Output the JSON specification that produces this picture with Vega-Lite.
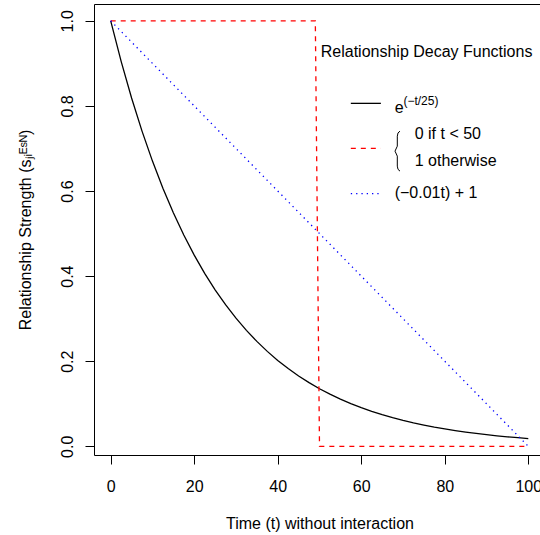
{
  "$schema": "https://vega.github.io/schema/vega-lite/v6.json",
  "width": 451,
  "height": 451,
  "autosize": {"type": "none"},
  "padding": {"left": 94, "top": 4, "right": 0, "bottom": 80},
  "background": "white",
  "config": {
    "view": {"stroke": "black", "strokeWidth": 1},
    "font": "Liberation Sans",
    "axis": {
      "grid": false,
      "domain": false,
      "ticks": true,
      "tickSize": 9,
      "tickColor": "black",
      "tickWidth": 1,
      "labelFont": "Liberation Sans",
      "labelFontSize": 16,
      "labelColor": "black",
      "titleFont": "Liberation Sans",
      "titleFontSize": 16,
      "titleFontWeight": "normal",
      "titleColor": "black",
      "labelOverlap": false,
      "labelFlush": false
    }
  },
  "datasets": {
    "curves": [
      {"fn": "exp", "t": 0, "s": 1.0},
      {"fn": "exp", "t": 2.5, "s": 0.9048},
      {"fn": "exp", "t": 5, "s": 0.8187},
      {"fn": "exp", "t": 7.5, "s": 0.7408},
      {"fn": "exp", "t": 10, "s": 0.6703},
      {"fn": "exp", "t": 12.5, "s": 0.6065},
      {"fn": "exp", "t": 15, "s": 0.5488},
      {"fn": "exp", "t": 17.5, "s": 0.4966},
      {"fn": "exp", "t": 20, "s": 0.4493},
      {"fn": "exp", "t": 22.5, "s": 0.4066},
      {"fn": "exp", "t": 25, "s": 0.3679},
      {"fn": "exp", "t": 27.5, "s": 0.3329},
      {"fn": "exp", "t": 30, "s": 0.3012},
      {"fn": "exp", "t": 32.5, "s": 0.2725},
      {"fn": "exp", "t": 35, "s": 0.2466},
      {"fn": "exp", "t": 37.5, "s": 0.2231},
      {"fn": "exp", "t": 40, "s": 0.2019},
      {"fn": "exp", "t": 42.5, "s": 0.1827},
      {"fn": "exp", "t": 45, "s": 0.1653},
      {"fn": "exp", "t": 47.5, "s": 0.1496},
      {"fn": "exp", "t": 50, "s": 0.1353},
      {"fn": "exp", "t": 52.5, "s": 0.1225},
      {"fn": "exp", "t": 55, "s": 0.1108},
      {"fn": "exp", "t": 57.5, "s": 0.1003},
      {"fn": "exp", "t": 60, "s": 0.0907},
      {"fn": "exp", "t": 62.5, "s": 0.0821},
      {"fn": "exp", "t": 65, "s": 0.0743},
      {"fn": "exp", "t": 67.5, "s": 0.0672},
      {"fn": "exp", "t": 70, "s": 0.0608},
      {"fn": "exp", "t": 72.5, "s": 0.055},
      {"fn": "exp", "t": 75, "s": 0.0498},
      {"fn": "exp", "t": 77.5, "s": 0.045},
      {"fn": "exp", "t": 80, "s": 0.0408},
      {"fn": "exp", "t": 82.5, "s": 0.0369},
      {"fn": "exp", "t": 85, "s": 0.0334},
      {"fn": "exp", "t": 87.5, "s": 0.0302},
      {"fn": "exp", "t": 90, "s": 0.0273},
      {"fn": "exp", "t": 92.5, "s": 0.0247},
      {"fn": "exp", "t": 95, "s": 0.0224},
      {"fn": "exp", "t": 97.5, "s": 0.0202},
      {"fn": "exp", "t": 100, "s": 0.0183},
      {"fn": "step", "t": 0, "s": 1},
      {"fn": "step", "t": 49, "s": 1},
      {"fn": "step", "t": 50, "s": 0},
      {"fn": "step", "t": 100, "s": 0},
      {"fn": "linear", "t": 0, "s": 1},
      {"fn": "linear", "t": 100, "s": 0}
    ],
    "legendLines": [
      {"fn": "exp", "t": 57.5, "t2": 64.7, "s": 0.806},
      {"fn": "step", "t": 57.5, "t2": 64.7, "s": 0.7},
      {"fn": "linear", "t": 57.5, "t2": 64.7, "s": 0.594}
    ],
    "legendText": [
      {"label": "Relationship Decay Functions", "t": 50.3, "s": 0.9154},
      {"label": "e", "t": 68.0, "s": 0.784},
      {"label": "0  if  t < 50", "t": 72.8, "s": 0.7212},
      {"label": "1  otherwise", "t": 72.8, "s": 0.6585},
      {"label": "(−0.01t) + 1", "t": 68.0, "s": 0.5842}
    ],
    "legendSup": [
      {"label": "(−t/25)", "t": 70.1, "s": 0.8017}
    ],
    "brace": [
      {"i": 1, "t": 69.28, "s": 0.7407},
      {"i": 2, "t": 68.8, "s": 0.7365},
      {"i": 3, "t": 68.63, "s": 0.7289},
      {"i": 4, "t": 68.63, "s": 0.7054},
      {"i": 5, "t": 68.08, "s": 0.6937},
      {"i": 6, "t": 68.63, "s": 0.682},
      {"i": 7, "t": 68.63, "s": 0.6585},
      {"i": 8, "t": 68.8, "s": 0.6509},
      {"i": 9, "t": 69.28, "s": 0.6467}
    ]
  },
  "layer": [
    {
      "data": {"name": "curves"},
      "transform": [{"filter": "datum.fn === 'exp'"}],
      "mark": {"type": "line", "color": "black", "strokeWidth": 1.3},
      "encoding": {
        "x": {
          "field": "t", "type": "quantitative",
          "scale": {"domain": [-4, 104], "nice": false, "zero": false},
          "axis": {
            "title": "Time (t) without interaction",
            "values": [0, 20, 40, 60, 80, 100],
            "format": "d",
            "labelBaseline": "top",
            "labelPadding": 14,
            "titlePadding": 21
          }
        },
        "y": {
          "field": "s", "type": "quantitative",
          "scale": {"domain": [-0.0204, 1.0395], "nice": false, "zero": false},
          "axis": {
            "title": "Relationship Strength (sⱼᵢᴱˢᴺ)",
            "values": [0, 0.2, 0.4, 0.6, 0.8, 1.0],
            "format": ".1f",
            "labelAngle": -90,
            "labelAlign": "center",
            "labelBaseline": "alphabetic",
            "labelPadding": 13,
            "titlePadding": 26
          }
        },
        "order": {"field": "t", "type": "quantitative"}
      }
    },
    {
      "data": {"name": "curves"},
      "transform": [{"filter": "datum.fn === 'step'"}],
      "mark": {"type": "line", "color": "red", "strokeWidth": 1.3, "strokeDash": [5, 5]},
      "encoding": {
        "x": {"field": "t", "type": "quantitative"},
        "y": {"field": "s", "type": "quantitative"},
        "order": {"field": "t", "type": "quantitative"}
      }
    },
    {
      "data": {"name": "curves"},
      "transform": [{"filter": "datum.fn === 'linear'"}],
      "mark": {"type": "line", "color": "blue", "strokeWidth": 1.3, "strokeDash": [1.3, 4]},
      "encoding": {
        "x": {"field": "t", "type": "quantitative"},
        "y": {"field": "s", "type": "quantitative"},
        "order": {"field": "t", "type": "quantitative"}
      }
    },
    {
      "data": {"name": "legendLines"},
      "transform": [{"filter": "datum.fn === 'exp'"}],
      "mark": {"type": "rule", "color": "black", "strokeWidth": 1.3},
      "encoding": {
        "x": {"field": "t", "type": "quantitative"},
        "x2": {"field": "t2"},
        "y": {"field": "s", "type": "quantitative"}
      }
    },
    {
      "data": {"name": "legendLines"},
      "transform": [{"filter": "datum.fn === 'step'"}],
      "mark": {"type": "rule", "color": "red", "strokeWidth": 1.3, "strokeDash": [5, 5]},
      "encoding": {
        "x": {"field": "t", "type": "quantitative"},
        "x2": {"field": "t2"},
        "y": {"field": "s", "type": "quantitative"}
      }
    },
    {
      "data": {"name": "legendLines"},
      "transform": [{"filter": "datum.fn === 'linear'"}],
      "mark": {"type": "rule", "color": "blue", "strokeWidth": 1.3, "strokeDash": [1.3, 4]},
      "encoding": {
        "x": {"field": "t", "type": "quantitative"},
        "x2": {"field": "t2"},
        "y": {"field": "s", "type": "quantitative"}
      }
    },
    {
      "data": {"name": "brace"},
      "mark": {"type": "line", "color": "black", "strokeWidth": 1},
      "encoding": {
        "x": {"field": "t", "type": "quantitative"},
        "y": {"field": "s", "type": "quantitative"},
        "order": {"field": "i", "type": "quantitative"}
      }
    },
    {
      "data": {"name": "legendText"},
      "mark": {"type": "text", "align": "left", "baseline": "alphabetic", "fontSize": 16, "color": "black", "font": "Liberation Sans"},
      "encoding": {
        "x": {"field": "t", "type": "quantitative"},
        "y": {"field": "s", "type": "quantitative"},
        "text": {"field": "label"}
      }
    },
    {
      "data": {"name": "legendSup"},
      "mark": {"type": "text", "align": "left", "baseline": "alphabetic", "fontSize": 12, "color": "black", "font": "Liberation Sans"},
      "encoding": {
        "x": {"field": "t", "type": "quantitative"},
        "y": {"field": "s", "type": "quantitative"},
        "text": {"field": "label"}
      }
    }
  ]
}
